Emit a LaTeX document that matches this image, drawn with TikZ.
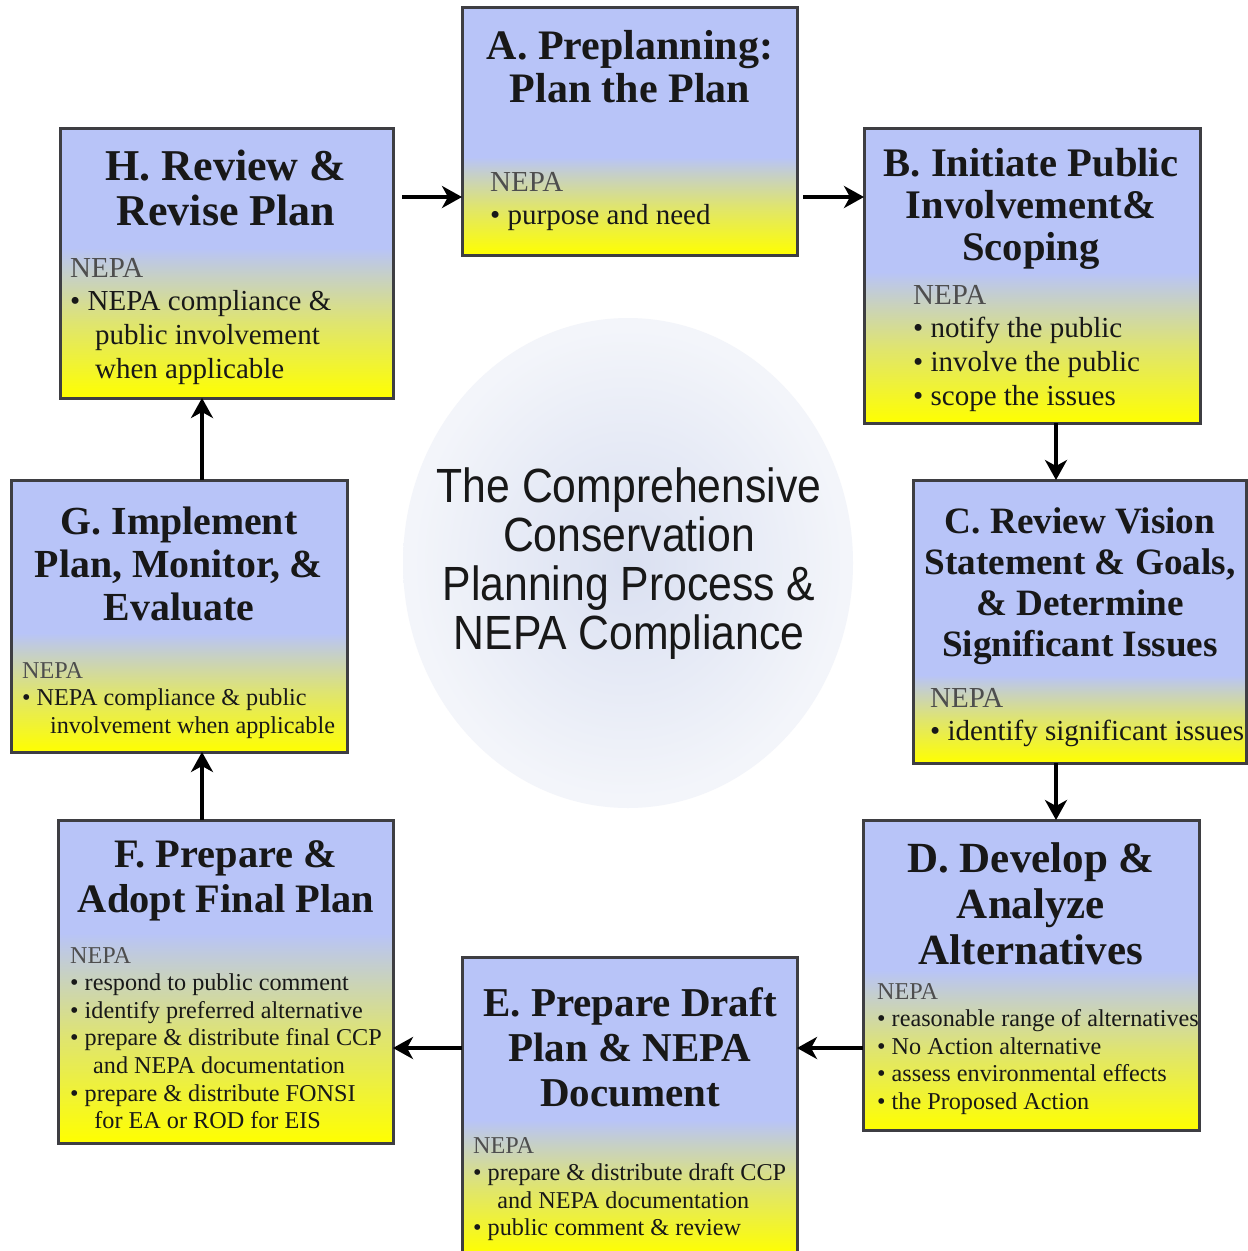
\documentclass[tikz,border=0pt]{standalone}
\usepackage{fontspec}
\setmainfont{Liberation Serif}
\newfontfamily\discfont[FakeStretch=0.89]{Liberation Sans}
\usetikzlibrary{arrows.meta,calc}

\definecolor{stageblue}{RGB}{184,196,248}
\definecolor{stageyellow}{RGB}{255,255,0}
\definecolor{framegray}{RGB}{62,62,66}
\definecolor{nepagray}{RGB}{78,78,78}
\definecolor{inkblack}{RGB}{24,24,24}
\definecolor{discin}{RGB}{218,224,241}
\definecolor{discmid}{RGB}{231,235,246}
\definecolor{discout}{RGB}{243,245,250}
\pgfdeclareradialshading{disc}{\pgfpoint{0bp}{0bp}}{color(0bp)=(discin); color(13bp)=(discmid); color(24bp)=(discout); color(25bp)=(discout); color(50bp)=(white)}

\tikzset{
  stagebox/.style={fill=stageblue, inner sep=0pt, outer sep=0pt},
  nepafade/.style={top color=stageblue, bottom color=stageyellow, middle color=stageyellow!55!stageblue},
  frame/.style={draw=framegray, line width=3pt},
  stagetitle/.style 2 args={anchor=north, inner sep=0pt, align=center, text=inkblack, font=\bfseries\fontsize{#1}{#2}\selectfont},
  nepabig/.style={anchor=north west, inner sep=0pt, align=left, text=inkblack, font=\fontsize{29}{33.6}\selectfont},
  nepasmall/.style={anchor=north west, inner sep=0pt, align=left, text=inkblack, font=\fontsize{24.2}{27.6}\selectfont},
  flow/.style={line width=4.4pt, -{Stealth[length=20pt,width=22pt,inset=6pt]}}
}

\begin{document}
\begin{tikzpicture}[x=1pt,y=1pt,yscale=-1,xscale=1]
\useasboundingbox (0,0) rectangle (1248,1251);
\fill[white] (0,0) rectangle (1248,1251);

%Shape: Ellipse [centre disc]
\shade[shading=disc] (628,563) ellipse [x radius=225, y radius=245];

% Text Node
\draw (629,468) node [anchor=north, inner sep=0pt, align=center, text=inkblack, font=\discfont\fontsize{48}{49}\selectfont] (process) {The Comprehensive\\Conservation\\Planning Process \&\\NEPA Compliance};

% Box A
\node [stagebox, minimum width=335pt, minimum height=248pt] (boxA) at (629.5,131) {};
\shade [nepafade] (boxA.west |- 0,157) rectangle (boxA.south east);
\draw [frame] (boxA.north west) rectangle (boxA.south east);
% Text Node
\draw (630,30) node [stagetitle={42}{43}] (titleA) {A. Preplanning:\\Plan the Plan};
% Text Node
\draw (490,172) node [nepabig] (nepaA) {{\color{nepagray}NEPA}\\\textbullet\ purpose and need};

% Box B
\node [stagebox, minimum width=336pt, minimum height=295pt] (boxB) at (1032,275.5) {};
\shade [nepafade] (boxB.west |- 0,272) rectangle (boxB.south east);
\draw [frame] (boxB.north west) rectangle (boxB.south east);
% Text Node
\draw (1031,148) node [stagetitle={40.6}{42}] (titleB) {B. Initiate Public\\Involvement\&\\Scoping};
% Text Node
\draw (913,285) node [nepabig] (nepaB) {{\color{nepagray}NEPA}\\\textbullet\ notify the public\\\textbullet\ involve the public\\\textbullet\ scope the issues};

% Box C
\node [stagebox, minimum width=333pt, minimum height=283pt] (boxC) at (1079.5,621.5) {};
\shade [nepafade] (boxC.west |- 0,675) rectangle (boxC.south east);
\draw [frame] (boxC.north west) rectangle (boxC.south east);
% Text Node
\draw (1080,507) node [stagetitle={37.2}{41}] (titleC) {C. Review Vision\\Statement \& Goals,\\\& Determine\\Significant Issues};
% Text Node
\draw (930,688) node [nepabig] (nepaC) {{\color{nepagray}NEPA}\\\textbullet\ identify significant issues};

% Box D
\node [stagebox, minimum width=336pt, minimum height=310pt] (boxD) at (1031,975) {};
\shade [nepafade] (boxD.west |- 0,970) rectangle (boxD.south east);
\draw [frame] (boxD.north west) rectangle (boxD.south east);
% Text Node
\draw (1031,842) node [stagetitle={43}{46}] (titleD) {D. Develop \&\\Analyze\\Alternatives};
% Text Node
\draw (877,983) node [nepasmall] (nepaD) {{\color{nepagray}NEPA}\\\textbullet\ reasonable range of alternatives\\\textbullet\ No Action alternative\\\textbullet\ assess environmental effects\\\textbullet\ the Proposed Action};

% Box E
\node [stagebox, minimum width=335pt, minimum height=297pt] (boxE) at (629.5,1105.5) {};
\shade [nepafade] (boxE.west |- 0,1120) rectangle (boxE.south east);
\draw [frame] (boxE.north west) rectangle (boxE.south east);
% Text Node
\draw (630,987) node [stagetitle={41}{45}] (titleE) {E. Prepare Draft\\Plan \& NEPA\\Document};
% Text Node
\draw (473,1137) node [nepasmall] (nepaE) {{\color{nepagray}NEPA}\\\textbullet\ prepare \& distribute draft CCP\\\hspace*{1em}and NEPA documentation\\\textbullet\ public comment \& review};

% Box F
\node [stagebox, minimum width=335pt, minimum height=323pt] (boxF) at (225.5,981.5) {};
\shade [nepafade] (boxF.west |- 0,933) rectangle (boxF.south east);
\draw [frame] (boxF.north west) rectangle (boxF.south east);
% Text Node
\draw (226,840) node [stagetitle={40.4}{45}] (titleF) {F. Prepare \&\\Adopt Final Plan};
% Text Node
\draw (70,947) node [nepasmall] (nepaF) {{\color{nepagray}NEPA}\\\textbullet\ respond to public comment\\\textbullet\ identify preferred alternative\\\textbullet\ prepare \& distribute final CCP\\\hspace*{0.95em}and NEPA documentation\\\textbullet\ prepare \& distribute FONSI\\\hspace*{1em}for EA or ROD for EIS};

% Box G
\node [stagebox, minimum width=336pt, minimum height=272pt] (boxG) at (179,616) {};
\shade [nepafade] (boxG.west |- 0,633) rectangle (boxG.south east);
\draw [frame] (boxG.north west) rectangle (boxG.south east);
% Text Node
\draw (179,507) node [stagetitle={39.8}{43}] (titleG) {G. Implement\\Plan, Monitor, \&\\Evaluate};
% Text Node
\draw (22,662) node [nepasmall] (nepaG) {{\color{nepagray}NEPA}\\\textbullet\ NEPA compliance \& public\\\hspace*{1.15em}involvement when applicable};

% Box H
\node [stagebox, minimum width=333pt, minimum height=270pt] (boxH) at (226.5,263) {};
\shade [nepafade] (boxH.west |- 0,248) rectangle (boxH.south east);
\draw [frame] (boxH.north west) rectangle (boxH.south east);
% Text Node
\draw (226,150) node [stagetitle={44}{45}] (titleH) {H. Review \&\\Revise Plan};
% Text Node
\draw (70,258) node [nepabig] (nepaH) {{\color{nepagray}NEPA}\\\textbullet\ NEPA compliance \&\\\hspace*{0.86em}public involvement\\\hspace*{0.86em}when applicable};

% Arrows
\draw [flow, shorten <=9pt] ($(boxH.east)+(0,-66)$) -- ($(boxA.west)+(0,66)$);
\draw [flow, shorten <=6pt] ($(boxA.east)+(0,66)$) -- ($(boxB.west)+(0,-78.5)$);
\draw [flow] ($(boxB.south)+(24,0)$) -- ($(boxC.north)+(-23.5,0)$);
\draw [flow] ($(boxC.south)+(-23.5,0)$) -- ($(boxD.north)+(25,0)$);
\draw [flow] ($(boxD.west)+(0,73)$) -- ($(boxE.east)+(0,-57.5)$);
\draw [flow] ($(boxE.west)+(0,-57.5)$) -- ($(boxF.east)+(0,66.5)$);
\draw [flow] ($(boxF.north)+(-23.5,0)$) -- ($(boxG.south)+(23,0)$);
\draw [flow] ($(boxG.north)+(23,0)$) -- ($(boxH.south)+(-24.5,0)$);

\end{tikzpicture}
\end{document}
